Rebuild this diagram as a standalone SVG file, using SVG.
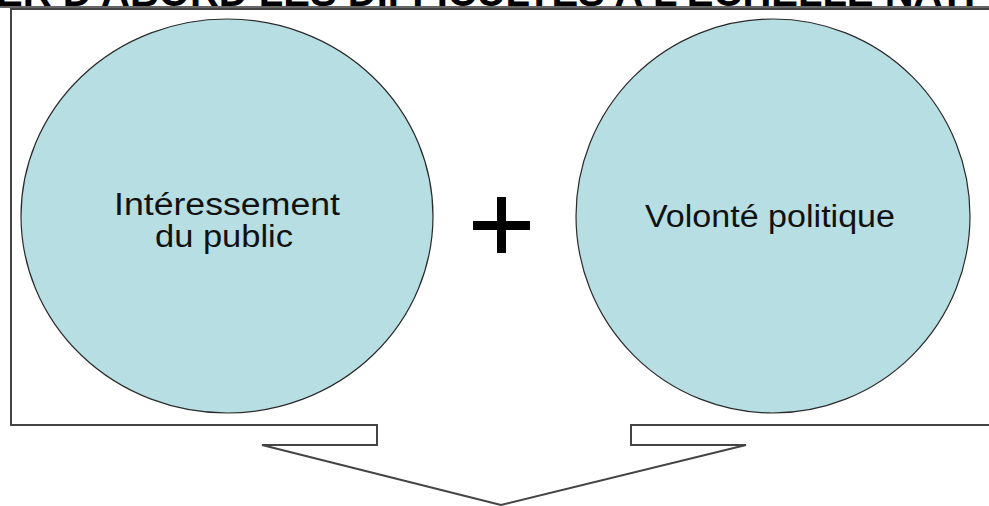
<svg xmlns="http://www.w3.org/2000/svg" width="989" height="506" viewBox="0 0 989 506">
  <style>
    .lbl { font-family: "Liberation Sans", Arial, sans-serif; font-size: 31px; fill: #111; }
    .head { font-family: "Liberation Sans", Arial, sans-serif; font-size: 40px; font-weight: bold; fill: #000; }
    .circle { fill: #b7dee2; stroke: #2a2a2a; stroke-width: 1.2; }
  </style>
  <rect width="989" height="506" fill="#ffffff"/>
  <g id="title">
    <text class="head" x="-4" y="6">ER D'ABORD LES DIFFICULTES A L'ECHELLE NATI</text>
    <line x1="0" y1="7" x2="989" y2="7" stroke="#333" stroke-width="1.5"/>
  </g>
  <g id="callout">
    <path d="M 995 9 L 11 9 L 11 425 L 377 425 L 377 445 L 262 445 L 501 505 L 746 445 L 631 445 L 631 425 L 995 425" fill="none" stroke="#444" stroke-width="2" stroke-linejoin="miter"/>
  </g>
  <g id="node-interessement">
    <ellipse class="circle" cx="227" cy="216" rx="206" ry="197"/>
    <text class="lbl" x="227" y="215" text-anchor="middle" textLength="226" lengthAdjust="spacingAndGlyphs">Intéressement</text>
    <text class="lbl" x="224" y="247" text-anchor="middle" textLength="138" lengthAdjust="spacingAndGlyphs">du public</text>
  </g>
  <g id="plus">
    <rect x="473" y="221" width="57" height="9" fill="#000"/>
    <rect x="497" y="197" width="9" height="56" fill="#000"/>
  </g>
  <g id="node-volonte">
    <ellipse class="circle" cx="773" cy="216" rx="197" ry="197"/>
    <text class="lbl" x="770" y="227" text-anchor="middle" textLength="250" lengthAdjust="spacingAndGlyphs">Volonté politique</text>
  </g>
  <g id="connectors"></g>
</svg>
